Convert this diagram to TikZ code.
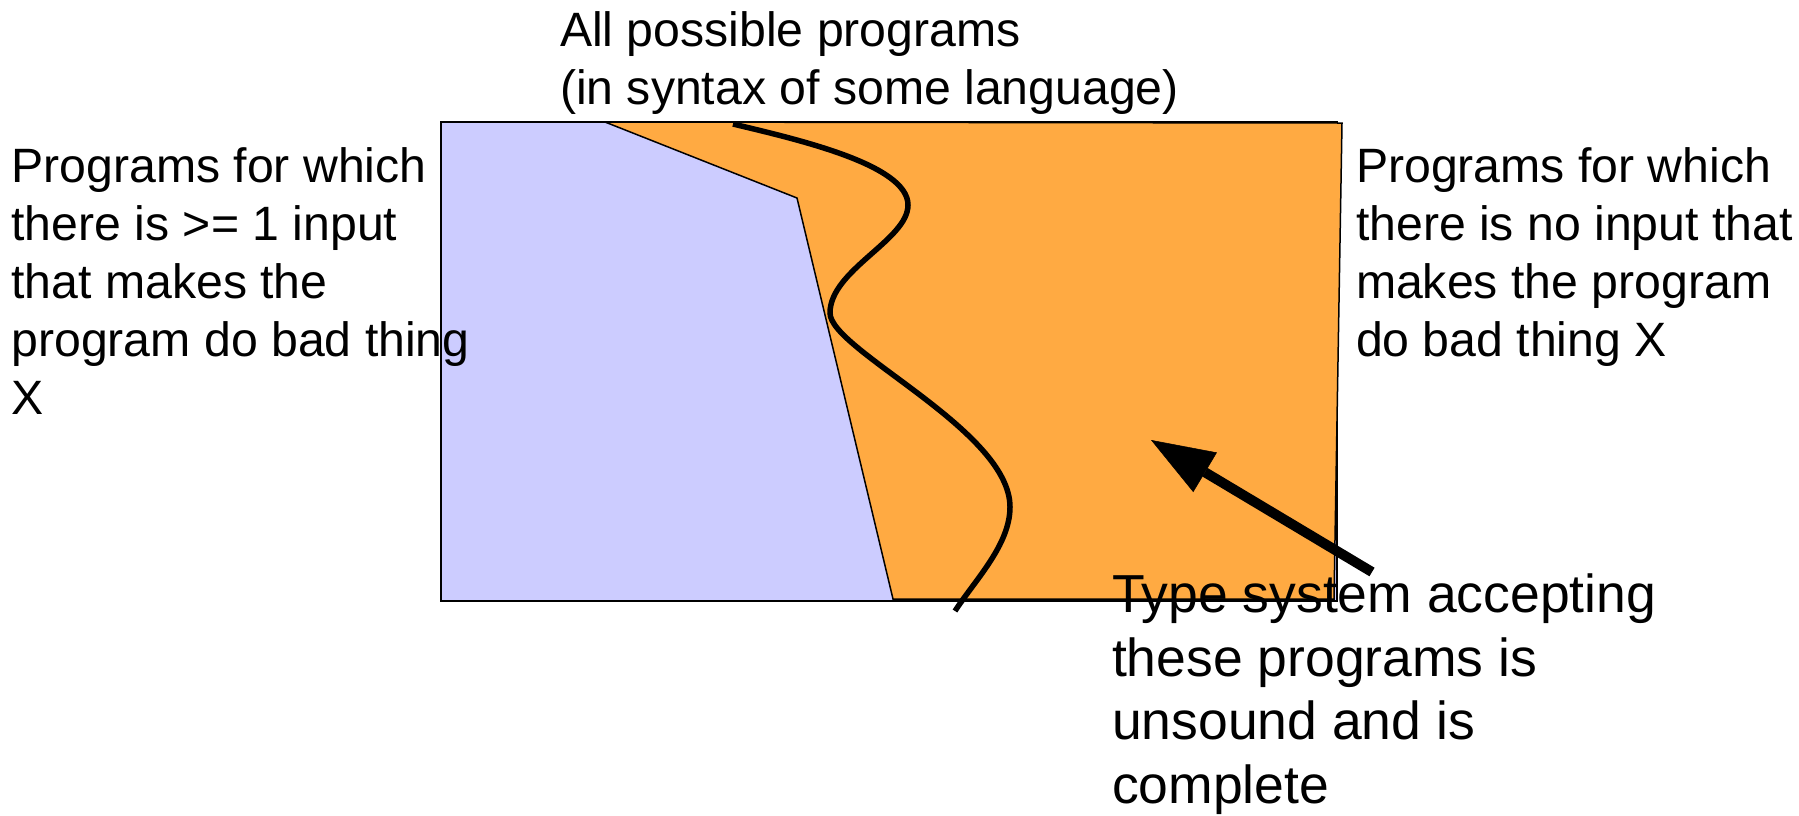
\documentclass[tikz,border=0pt]{standalone}
\usepackage{fontspec}
\setmainfont{Liberation Sans}
\usetikzlibrary{arrows.meta}
\definecolor{lavender}{RGB}{204,204,255}
\definecolor{orangefill}{RGB}{255,170,66}
\tikzset{
  label text/.style={inner sep=0pt, outer sep=0pt, align=left, anchor=base west,
    font=\fontsize{48.2}{58}\selectfont},
  region/.style={draw=black, line width=1.5pt},
  border curve/.style={draw=black, line width=5.5pt},
  big arrow/.style={draw=black, line width=10pt,
    -{Triangle[length=63pt,width=46pt,line width=0.5pt]}}
}
\begin{document}
\begin{tikzpicture}[x=1pt,y=-1pt]
\path[use as bounding box] (0,0) rectangle (1799,815);
% regions
\path[region, fill=lavender] (441,122) rectangle (1337,601);
\path[region, fill=orangefill] (605,122) -- (1342,123) -- (1334,599) -- (893,599) -- (797,198) -- cycle;
% dividing curve
\path[border curve] (733,124) .. controls (800,140) and (908,165) .. (908,205)
  .. controls (908,240) and (830,270) .. (830,313)
  .. controls (830,350) and (1010,430) .. (1010,507)
  .. controls (1010,545) and (975,580) .. (955,611);
% arrow
\coordinate (arrowtail) at (1372,572);
\coordinate (arrowtip) at (1151,440);
\draw[big arrow] (arrowtail) -- (arrowtip);
% texts (anchored at the baseline of their last line)
\node[label text] (top) at (560,104) {All possible programs\\(in syntax of some language)};
\node[label text] (left) at (11.5,414) {Programs for which\\there is >= 1 input\\that makes the\\program do bad thing\\X};
\node[label text] (right) at (1356,356) {Programs for which\\there is no input that\\makes the program\\do bad thing X};
\node[label text, font=\fontsize{53.5}{63.5}\selectfont] (bottom) at (1112,803) {Type system accepting\\these programs is\\unsound and is\\complete};
\end{tikzpicture}
\end{document}
